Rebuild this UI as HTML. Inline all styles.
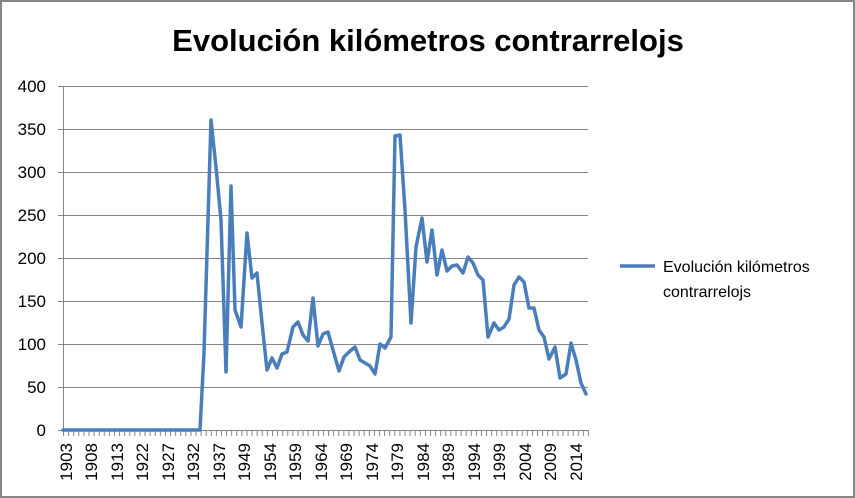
<!DOCTYPE html>
<html><head><meta charset="utf-8"><style>
html,body{margin:0;padding:0;background:#fff}
svg{display:block;font-family:"Liberation Sans",sans-serif}
</style></head><body>
<svg width="855" height="498" viewBox="0 0 855 498" xmlns="http://www.w3.org/2000/svg">
<defs>
<pattern id="tk" x="63" y="0" width="5.097" height="10" patternUnits="userSpaceOnUse">
<rect x="0" y="0" width="1" height="10" fill="#868686"/>
</pattern>
</defs>
<rect x="1" y="1" width="853" height="496" fill="#fff" stroke="#868686" stroke-width="2"/>
<text x="428" y="51" text-anchor="middle" font-size="31" font-weight="bold" fill="#000">Evolución kilómetros contrarrelojs</text>
<g stroke="#868686" stroke-width="1">
<line x1="58" y1="86.5" x2="588" y2="86.5"/>
<line x1="58" y1="129.5" x2="588" y2="129.5"/>
<line x1="58" y1="172.5" x2="588" y2="172.5"/>
<line x1="58" y1="215.5" x2="588" y2="215.5"/>
<line x1="58" y1="258.5" x2="588" y2="258.5"/>
<line x1="58" y1="301.5" x2="588" y2="301.5"/>
<line x1="58" y1="344.5" x2="588" y2="344.5"/>
<line x1="58" y1="387.5" x2="588" y2="387.5"/>
<line x1="58" y1="430.5" x2="588" y2="430.5"/>
<line x1="63.5" y1="86" x2="63.5" y2="436"/>
</g>
<rect x="63" y="430" width="526" height="6" fill="url(#tk)"/>
<g font-size="17" fill="#000" text-anchor="end">
<text x="46" y="92">400</text>
<text x="46" y="135">350</text>
<text x="46" y="178">300</text>
<text x="46" y="221">250</text>
<text x="46" y="264">200</text>
<text x="46" y="307">150</text>
<text x="46" y="350">100</text>
<text x="46" y="393">50</text>
<text x="46" y="436">0</text>
</g>
<g font-size="17" fill="#000" text-anchor="end">
<text transform="translate(72,443) rotate(-90)">1903</text>
<text transform="translate(97,443) rotate(-90)">1908</text>
<text transform="translate(123,443) rotate(-90)">1913</text>
<text transform="translate(148,443) rotate(-90)">1922</text>
<text transform="translate(174,443) rotate(-90)">1927</text>
<text transform="translate(199,443) rotate(-90)">1932</text>
<text transform="translate(225,443) rotate(-90)">1937</text>
<text transform="translate(250,443) rotate(-90)">1949</text>
<text transform="translate(276,443) rotate(-90)">1954</text>
<text transform="translate(301,443) rotate(-90)">1959</text>
<text transform="translate(327,443) rotate(-90)">1964</text>
<text transform="translate(352,443) rotate(-90)">1969</text>
<text transform="translate(378,443) rotate(-90)">1974</text>
<text transform="translate(403,443) rotate(-90)">1979</text>
<text transform="translate(429,443) rotate(-90)">1984</text>
<text transform="translate(454,443) rotate(-90)">1989</text>
<text transform="translate(480,443) rotate(-90)">1994</text>
<text transform="translate(505,443) rotate(-90)">1999</text>
<text transform="translate(531,443) rotate(-90)">2004</text>
<text transform="translate(556,443) rotate(-90)">2009</text>
<text transform="translate(582,443) rotate(-90)">2014</text>
</g>
<polyline fill="none" stroke="#4a7ebb" stroke-width="3.5" stroke-linejoin="round" stroke-linecap="round" points="
63,430 200,430 204,353 211,120 216,167 221,220 226,372 231,186 235,310 241,327 247,233 252,278 257,273 262,323 267,370 272,358 277,368 282,354 287,352 293,327 298,322 303,335 308,341 313,298 318,346 323,334 328,332 333,350 339,371 344,357 349,352 355,347 360,360 365,363 370,366 375,374 380,344 385,348 391,337 395,136 400,135 405,210 411,323 416,247 422,218 427,262 432,230 437,275 442,250 447,271 452,266 457,265 463,273 468,257 473,263 478,275 483,280 488,337 494,323 499,330 504,327 509,319 514,285 519,277 524,282 529,308 534,308 539,330 544,337 549,359 555,347 560,378 566,374 571,343 576,360 581,383 586,394"/>
<line x1="620" y1="266" x2="655" y2="266" stroke="#4a7ebb" stroke-width="3.5"/>
<text x="663" y="272" font-size="16" fill="#000">Evolución kilómetros</text>
<text x="663" y="297" font-size="16" fill="#000">contrarrelojs</text>
</svg>
</body></html>
